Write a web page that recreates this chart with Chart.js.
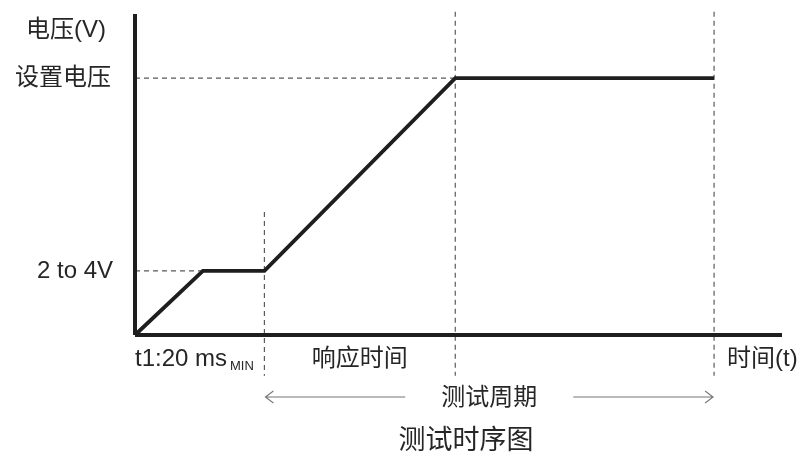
<!DOCTYPE html>
<html><head><meta charset="utf-8">
<script src="https://cdn.jsdelivr.net/npm/chart.js@4/dist/chart.umd.min.js"></script>
<style>html,body{margin:0;padding:0;background:#fff}#wrap{width:802px;height:455px}</style>
</head><body><div id="wrap"><canvas id="c" width="802" height="455"></canvas></div>
<script>
// ---- data (time in ms, voltage in V) ----
const timeMs   = [0, 10.5, 20, 49.5, 89.5];
const voltage  = [0, 3, 3, 12, 12];
const levelValues = [3, 12];
const levelLabels = ['2 to 4V', '设置电压'];
const axisLabels = ['电压(V)', '时间(t)'];
const phaseLabels = ['t1:20 ms', 'MIN', '响应时间', '测试周期'];
const titleText = '测试时序图';
const tMax = 100, vMax = 15;
const dashTop = [5.75, 15.1, 15.1];   // tops of vertical dashed markers (V)
const dashBottom = -1.9;              // bottoms (below axis)

const ink = '#1e1e1e', dashCol = '#5a5a5a', arrowCol = '#777';
const seg = (a, b, opt) => Object.assign({
  data: [a, b], showLine: true, pointRadius: 0, borderColor: dashCol,
  borderWidth: 1.2, borderDash: [5, 4], clip: false, fill: false, tension: 0
}, opt || {});

const datasets = [
  // axes
  seg({x: 0, y: 0}, {x: 0, y: vMax}, {borderColor: ink, borderWidth: 4, borderDash: []}),
  seg({x: 0, y: 0}, {x: tMax, y: 0}, {borderColor: ink, borderWidth: 4, borderDash: []}),
  // main waveform
  {data: timeMs.map((t, i) => ({x: t, y: voltage[i]})), showLine: true, pointRadius: 0,
   borderColor: ink, borderWidth: 3.8, clip: false, fill: false, tension: 0, borderJoinStyle: 'miter'},
  // dashed level guides
  seg({x: 0, y: levelValues[0]}, {x: timeMs[1], y: levelValues[0]}),
  seg({x: 0, y: levelValues[1]}, {x: timeMs[3], y: levelValues[1]}),
  // dashed time markers
  seg({x: timeMs[2], y: dashTop[0]}, {x: timeMs[2], y: dashBottom}),
  seg({x: timeMs[3], y: dashTop[1]}, {x: timeMs[3], y: dashBottom}),
  seg({x: timeMs[4], y: dashTop[2]}, {x: timeMs[4], y: dashBottom}),
];

const cjk = '"Liberation Sans", "Noto Sans CJK SC", sans-serif';
const labelsPlugin = {
  id: 'labels',
  afterDatasetsDraw(chart) {
    const ctx = chart.ctx, xs = chart.scales.x, ys = chart.scales.y, ca = chart.chartArea;
    ctx.save();
    ctx.fillStyle = '#262626';
    ctx.textBaseline = 'middle';
    // y-axis labels
    ctx.font = '24px ' + cjk;
    ctx.textAlign = 'center';
    ctx.fillText(axisLabels[0], 66, ys.getPixelForValue(14.25));
    ctx.textAlign = 'right';
    ctx.fillText(levelLabels[1], ca.left - 24, ys.getPixelForValue(levelValues[1]));
    ctx.font = '24px "Liberation Sans", sans-serif';
    ctx.fillText(levelLabels[0], ca.left - 22, ys.getPixelForValue(levelValues[0]) + 1);
    // x-axis labels
    const rowY = ca.bottom + 24;
    ctx.textAlign = 'left';
    ctx.font = '24px "Liberation Sans", sans-serif';
    const x0 = xs.getPixelForValue(0);
    ctx.fillText(phaseLabels[0], x0, rowY);
    const w = ctx.measureText(phaseLabels[0]).width;
    ctx.font = '13px "Liberation Sans", sans-serif';
    ctx.fillText(phaseLabels[1], x0 + w + 3, rowY + 7);
    ctx.font = '24px ' + cjk;
    ctx.textAlign = 'center';
    ctx.fillText(phaseLabels[2], (xs.getPixelForValue(timeMs[2]) + xs.getPixelForValue(timeMs[3])) / 2, rowY);
    ctx.textAlign = 'left';
    ctx.fillText(axisLabels[1], xs.getPixelForValue(timeMs[4]) + 13, rowY);
    // test period arrow
    const ax1 = xs.getPixelForValue(timeMs[2]), ax2 = xs.getPixelForValue(timeMs[4]);
    const mid = (ax1 + ax2) / 2, ay = ca.bottom + 62;
    ctx.textAlign = 'center';
    ctx.fillText(phaseLabels[3], mid, ay + 1);
    ctx.strokeStyle = arrowCol; ctx.lineWidth = 1.1;
    ctx.beginPath();
    ctx.moveTo(ax1 + 1, ay); ctx.lineTo(mid - 84, ay);
    ctx.moveTo(mid + 84, ay); ctx.lineTo(ax2 - 1, ay);
    ctx.moveTo(ax1 + 9, ay - 6); ctx.lineTo(ax1 + 1, ay); ctx.lineTo(ax1 + 9, ay + 6);
    ctx.moveTo(ax2 - 9, ay - 6); ctx.lineTo(ax2 - 1, ay); ctx.lineTo(ax2 - 9, ay + 6);
    ctx.stroke();
    // title
    ctx.font = '27px ' + cjk;
    ctx.fillText(titleText, 466, ca.bottom + 107);
    ctx.restore();
  }
};

new Chart(document.getElementById('c'), {
  type: 'scatter',
  data: {datasets},
  options: {
    responsive: false, animation: false, devicePixelRatio: 1,
    layout: {padding: {left: 135, right: 20, top: 14, bottom: 120}},
    plugins: {legend: {display: false}, tooltip: {enabled: false}},
    scales: {
      x: {type: 'linear', min: 0, max: tMax, display: false},
      y: {type: 'linear', min: 0, max: vMax, display: false}
    }
  },
  plugins: [labelsPlugin]
});
</script></body></html>
